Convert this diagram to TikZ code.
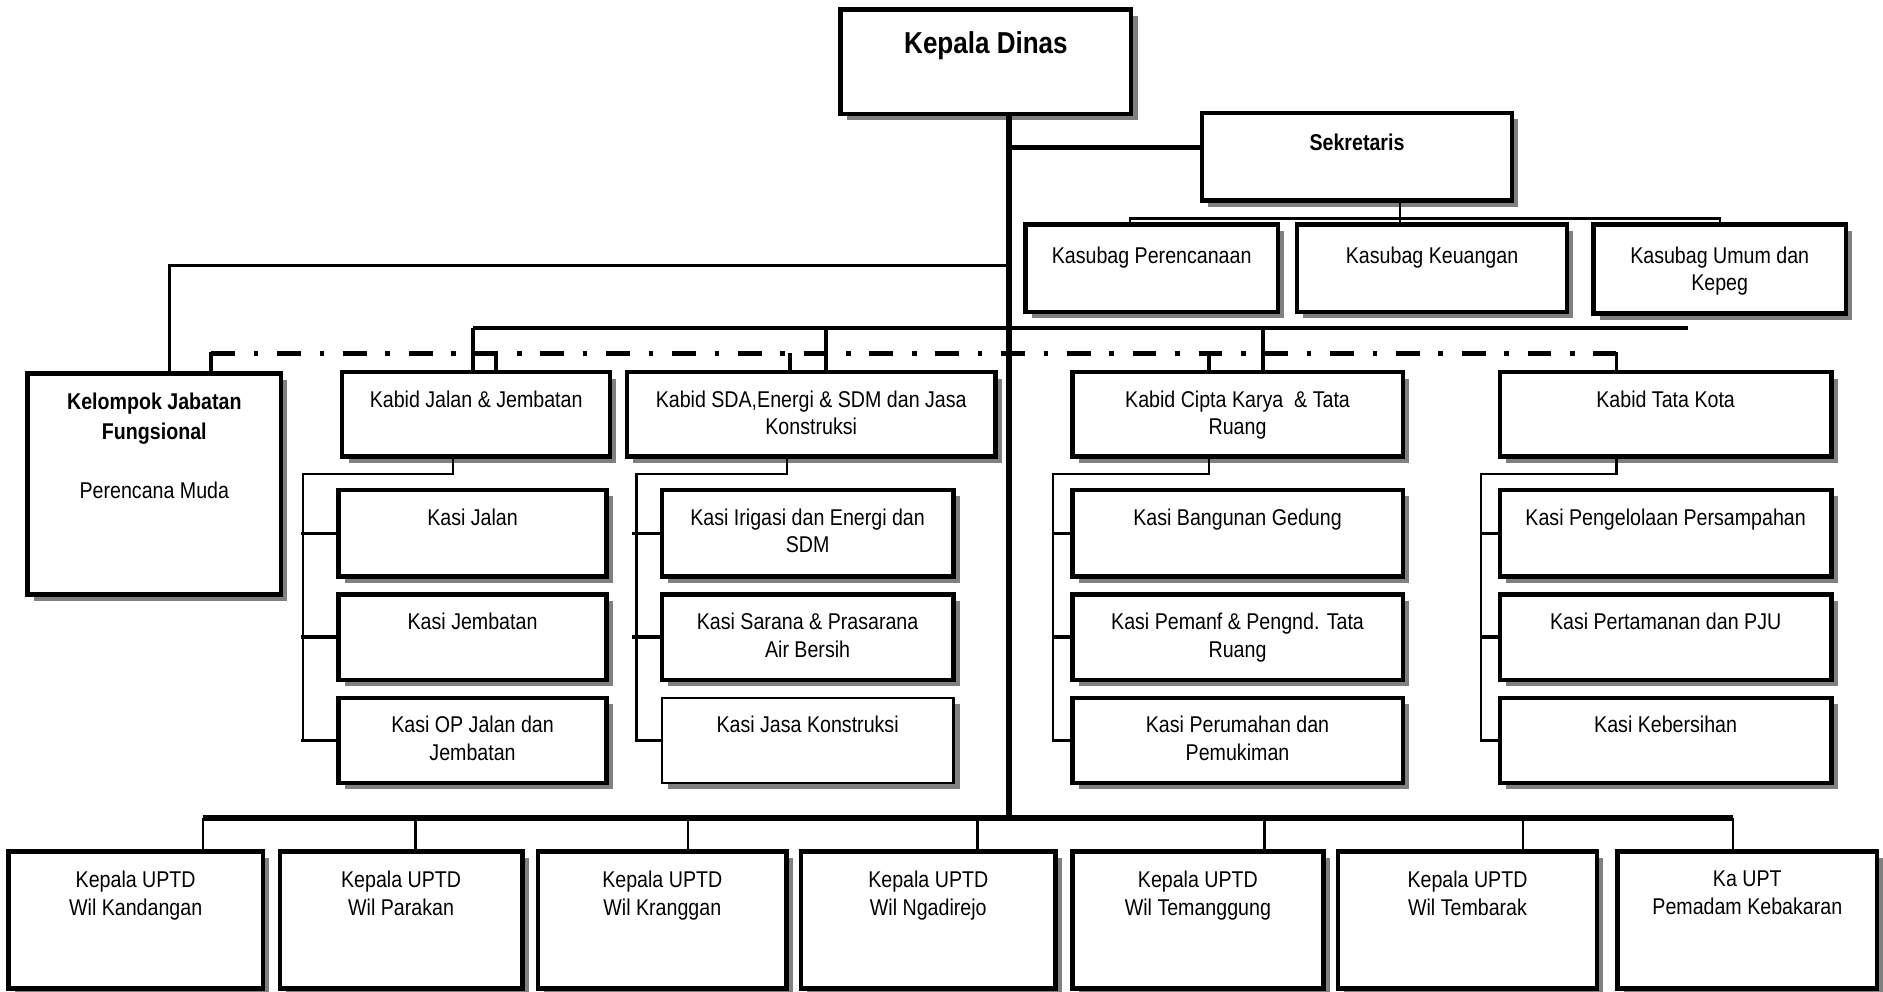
\documentclass[tikz,border=0pt]{standalone}
\usepackage{fontspec}
\setmainfont{Liberation Sans}[FakeStretch=0.86]
\usetikzlibrary{shadows}
\definecolor{orgshade}{HTML}{808080}
\tikzset{
  orgbox/.style   = {draw, line width=1.8pt, fill=white, anchor=north west,
                     inner sep=0pt, outer sep=0pt,
                     drop shadow={shadow xshift=2.6pt, shadow yshift=-2.6pt,
                                  opacity=1, fill=orgshade}},
  orgthin/.style  = {orgbox, line width=0.9pt},
  orgtext/.style  = {anchor=north, align=center, inner sep=0pt,
                     font=\fontsize{9.5}{11.5}\selectfont},
  wh/.style 2 args  = {minimum width=#1, minimum height=#2},
  txt/.style 2 args = {label={[orgtext, yshift=-#1]north:#2}},
  trunkline/.style = {line width=2.3pt},
  mainline/.style  = {line width=2pt},
  midline/.style   = {line width=1.5pt},
  dropline/.style  = {line width=1.6pt},
  fgline/.style    = {line width=2.1pt, dash pattern=on 9.9pt off 7.8pt on 1.9pt off 7.8pt},
  thinline/.style  = {line width=0.9pt},
  tickline/.style  = {line width=1.4pt},
}

\begin{document}
\begin{tikzpicture}[x=0.5pt, y=-0.5pt]
  \useasboundingbox (0,0) rectangle (1568,826);
  \fill[white] (0,0) rectangle (1568,826);

  \node[orgbox, wh={121pt}{43.5pt}, txt={9pt}{\fontsize{12.6}{14}\selectfont\bfseries Kepala Dinas}] (kadin) at (700,8) {};
  \node[orgbox, wh={129pt}{36.5pt}, txt={8.5pt}{\bfseries Sekretaris}] (sekr) at (1001,94) {};
  \node[orgbox, wh={105pt}{36.5pt}, txt={9pt}{Kasubag Perencanaan}] (ksbP) at (854,187) {};
  \node[orgbox, wh={112.5pt}{36.5pt}, txt={9pt}{Kasubag Keuangan}] (ksbK) at (1080,187) {};
  \node[orgbox, wh={105pt}{37pt}, txt={9pt}{Kasubag Umum dan\\Kepeg}] (ksbU) at (1327,187) {};

  \node[orgbox, wh={105.5pt}{92pt}, txt={8pt}{\bfseries Kelompok Jabatan\\[1pt]\bfseries Fungsional\\[13pt]Perencana Muda}] (kjf) at (23,311) {};
  \node[orgbox, wh={111.5pt}{35pt}, txt={7.5pt}{Kabid Jalan \& Jembatan}] (kbJJ) at (285,310) {};
  \node[orgbox, wh={153.5pt}{35pt}, txt={7.5pt}{Kabid SDA,Energi \& SDM dan Jasa\\Konstruksi}] (kbSDA) at (522,310) {};
  \node[orgbox, wh={137.5pt}{35pt}, txt={7.5pt}{Kabid Cipta Karya\ \ \& Tata\\Ruang}] (kbCK) at (893,310) {};
  \node[orgbox, wh={138pt}{35pt}, txt={7.5pt}{Kabid Tata Kota}] (kbTK) at (1249,310) {};

  \node[orgbox, wh={111.5pt}{36pt}, txt={7.5pt}{Kasi Jalan}] (ks11) at (282,408) {};
  \node[orgbox, wh={111.5pt}{35.5pt}, txt={7.5pt}{Kasi Jembatan}] (ks12) at (282,495) {};
  \node[orgbox, wh={111.5pt}{35.5pt}, txt={7.5pt}{Kasi OP Jalan dan\\Jembatan}] (ks13) at (282,581) {};
  \node[orgbox, wh={121.5pt}{36pt}, txt={7.5pt}{Kasi Irigasi dan Energi dan\\SDM}] (ks21) at (551,408) {};
  \node[orgbox, wh={121.5pt}{35.5pt}, txt={7.5pt}{Kasi Sarana \& Prasarana\\Air Bersih}] (ks22) at (551,495) {};
  \node[orgthin, wh={121.5pt}{35.5pt}, txt={7.5pt}{Kasi Jasa Konstruksi}] (ks23) at (551,581) {};
  \node[orgbox, wh={137.5pt}{36pt}, txt={7.5pt}{Kasi Bangunan Gedung}] (ks31) at (893,408) {};
  \node[orgbox, wh={137.5pt}{35.5pt}, txt={7.5pt}{Kasi Pemanf \& Pengnd. Tata\\Ruang}] (ks32) at (893,495) {};
  \node[orgbox, wh={137.5pt}{35.5pt}, txt={7.5pt}{Kasi Perumahan dan\\Pemukiman}] (ks33) at (893,581) {};
  \node[orgbox, wh={138pt}{36pt}, txt={7.5pt}{Kasi Pengelolaan Persampahan}] (ks41) at (1249,408) {};
  \node[orgbox, wh={138pt}{35.5pt}, txt={7.5pt}{Kasi Pertamanan dan PJU}] (ks42) at (1249,495) {};
  \node[orgbox, wh={138pt}{35.5pt}, txt={7.5pt}{Kasi Kebersihan}] (ks43) at (1249,581) {};

  \node[orgbox, wh={106pt}{57pt}, txt={8pt}{Kepala UPTD\\Wil Kandangan}] (up1) at (7,709) {};
  \node[orgbox, wh={101pt}{57pt}, txt={8pt}{Kepala UPTD\\Wil Parakan}] (up2) at (233,709) {};
  \node[orgbox, wh={103.5pt}{57pt}, txt={8pt}{Kepala UPTD\\Wil Kranggan}] (up3) at (448,709) {};
  \node[orgbox, wh={106pt}{57pt}, txt={8pt}{Kepala UPTD\\Wil Ngadirejo}] (up4) at (667,709) {};
  \node[orgbox, wh={104.5pt}{57pt}, txt={8pt}{Kepala UPTD\\Wil Temanggung}] (up5) at (893,709) {};
  \node[orgbox, wh={108pt}{57pt}, txt={8pt}{Kepala UPTD\\Wil Tembarak}] (up6) at (1114,709) {};
  \node[orgbox, wh={108pt}{57pt}, txt={8pt}{Ka UPT\\Pemadam Kebakaran}] (up7) at (1347,709) {};

  \draw[trunkline] (kadin.south -| 840,0) -- (840,681);
  \draw[mainline] (840,123) -- (sekr.west |- 0,123);
  \draw[thinline] (sekr.south -| 1166,0) -- (ksbK.north -| 1166,0);
  \draw[thinline] (ksbP.north -| 941,0) |- (1166,182) -| (ksbU.north);

  \draw[midline] (840,221) -| (kjf.north -| 141,0);
  \draw[midline] (394,273) -- (1406,273);
  \draw[dropline] (394,273) -- (kbJJ.north -| 394,0)
                  (688,273) -- (kbSDA.north -| 688,0)
                  (1052,273) -- (kbCK.north -| 1052,0);

  \draw[fgline] (176,294) -- (1346,294);
  \draw[dropline] (176,293) -- (kjf.north -| 176,0)
                  (413,294) -- (kbJJ.north -| 413,0)
                  (658,294) -- (kbSDA.north -| 658,0)
                  (1007,294) -- (kbCK.north -| 1007,0)
                  (1346,293) -- (kbTK.north -| 1346,0);

  \draw[thinline] (kbJJ.south -| 377,0) |- (252,395) |- (ks13.west);
  \draw[tickline] (ks11.west) -- +(-31,0) (ks12.west) -- +(-31,0) (ks13.west) -- +(-31,0);
  \draw[thinline] (kbSDA.south -| 655,0) |- (530,395) |- (ks23.west);
  \draw[tickline] (ks21.west) -- +(-25,0) (ks22.west) -- +(-25,0) (ks23.west) -- +(-22,0);
  \draw[thinline] (kbCK.south -| 1007,0) |- (877,395) |- (ks33.west);
  \draw[tickline] (ks31.west) -- +(-17,0) (ks32.west) -- +(-17,0) (ks33.west) -- +(-17,0);
  \draw[thinline] (kbTK.south -| 1346,0) |- (1233,395) |- (ks43.west);
  \draw[tickline] (ks41.west) -- +(-17,0) (ks42.west) -- +(-17,0) (ks43.west) -- +(-17,0);

  \draw[trunkline] (169,681) -- (1443,681);
  \draw[thinline] (169,681) -- (up1.north -| 169,0)
                  (346,681) -- (up2.north -| 346,0)
                  (573,681) -- (up3.north -| 573,0)
                  (814,681) -- (up4.north -| 814,0)
                  (1053,681) -- (up5.north -| 1053,0)
                  (1268,681) -- (up6.north -| 1268,0)
                  (1443,681) -- (up7.north -| 1443,0);
\end{tikzpicture}
\end{document}
